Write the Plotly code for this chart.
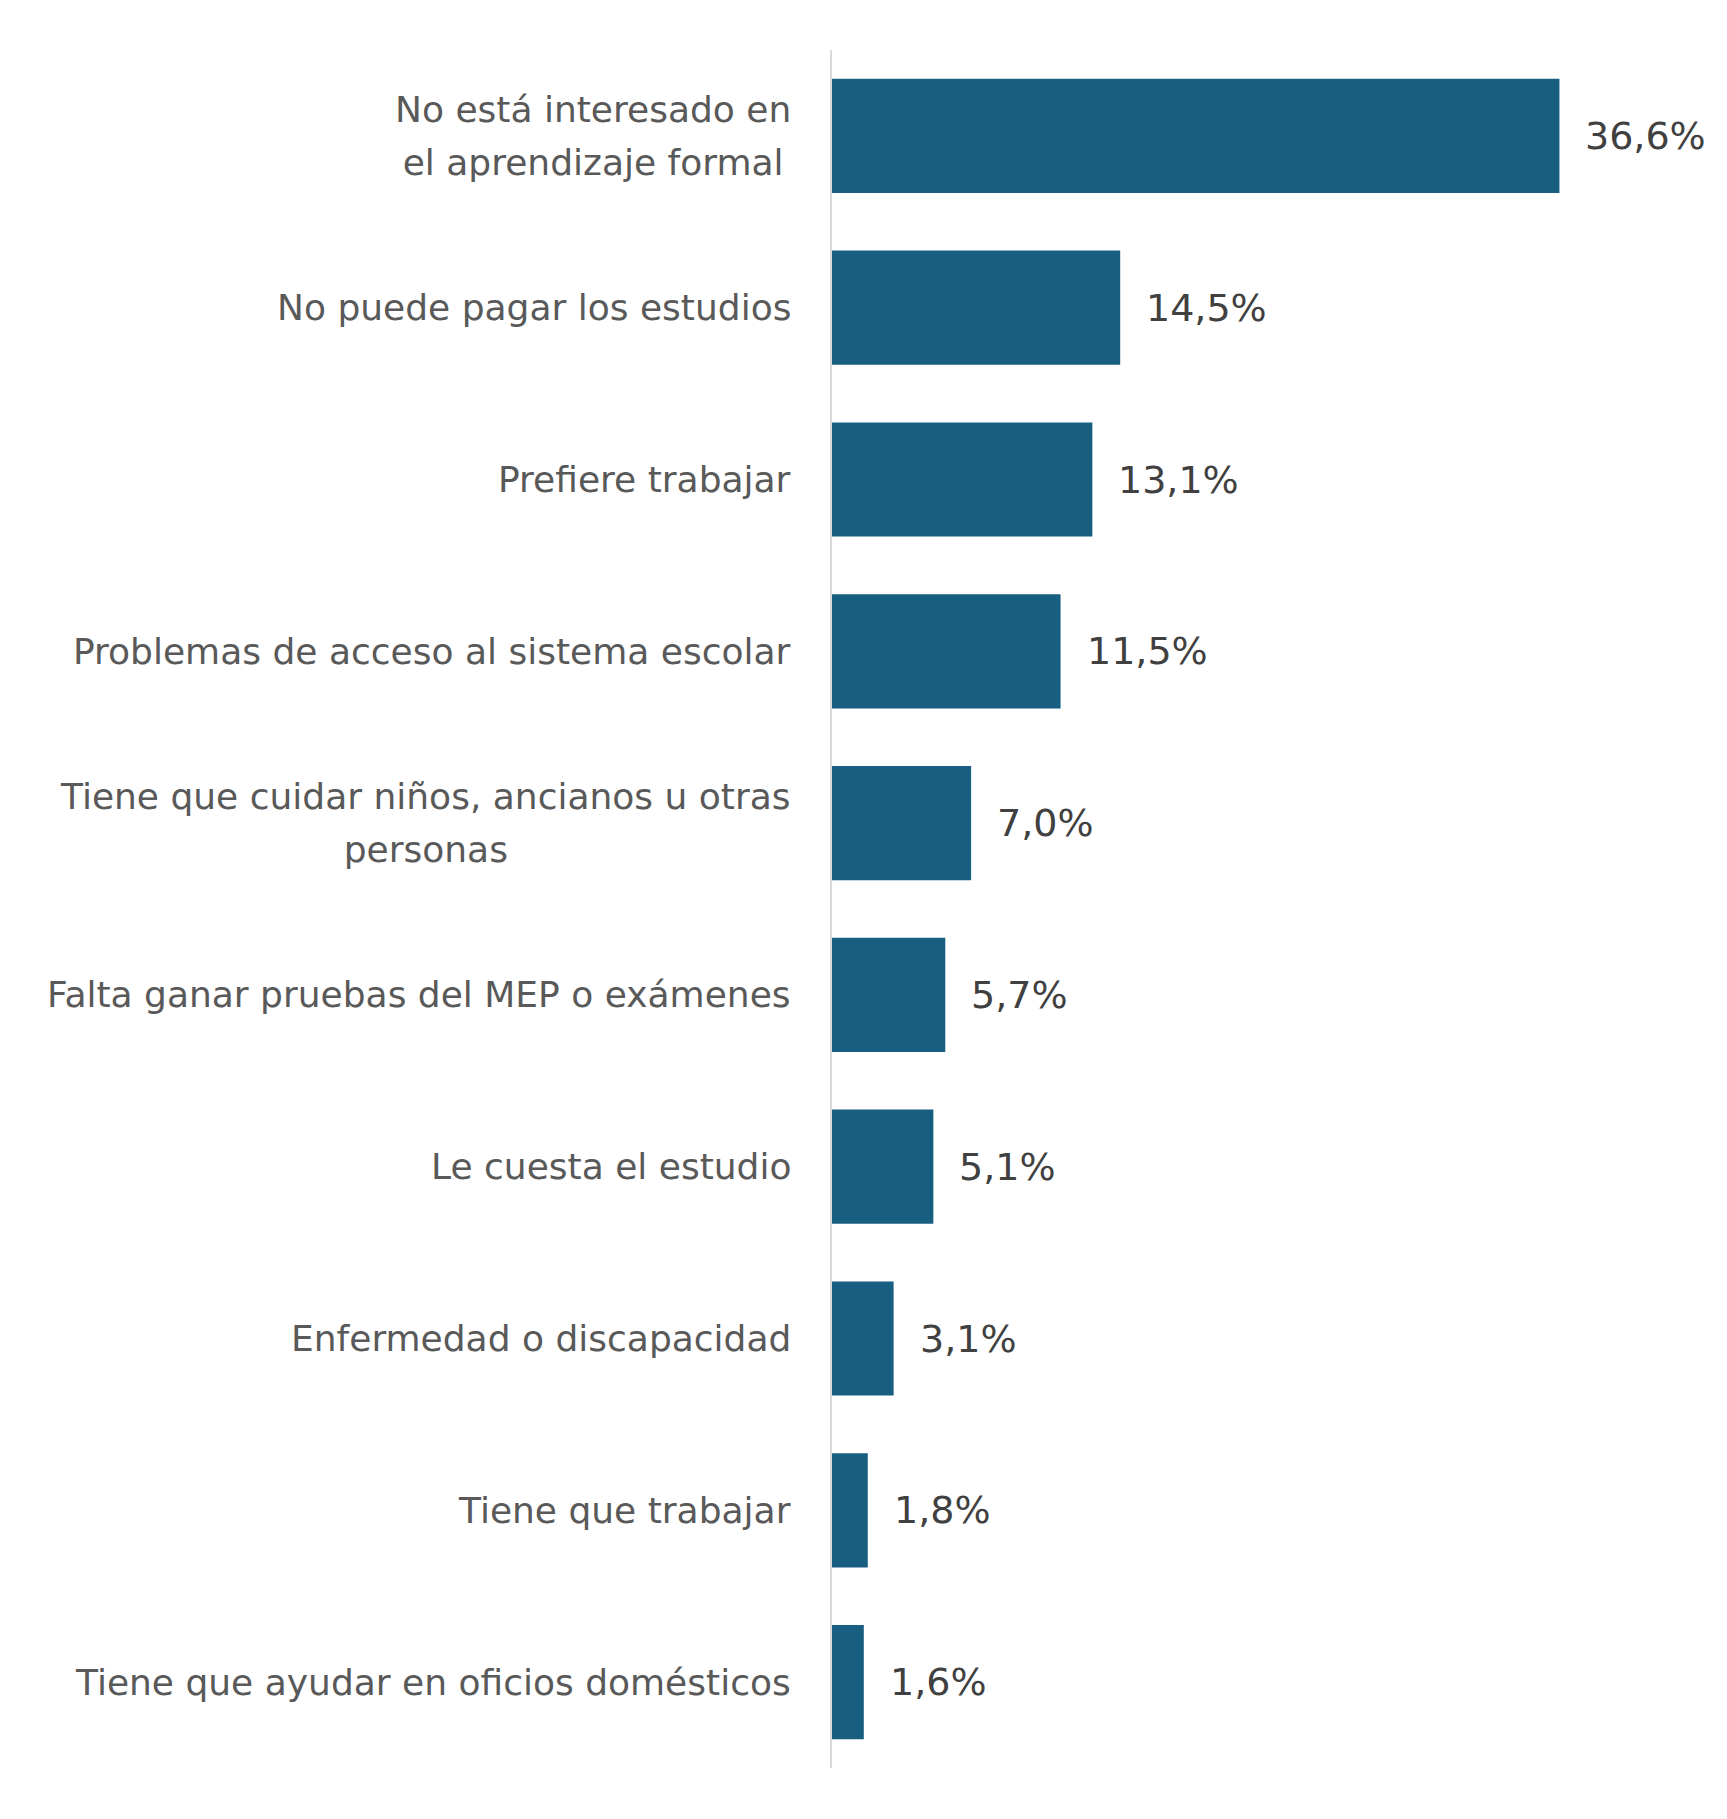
import plotly.graph_objects as go

# Motivos de no asistencia (porcentaje)
categories = [
    "No está interesado en<br>el aprendizaje formal",
    "No puede pagar los estudios",
    "Prefiere trabajar",
    "Problemas de acceso al sistema escolar",
    "Tiene que cuidar niños, ancianos u otras<br>personas",
    "Falta ganar pruebas del MEP o exámenes",
    "Le cuesta el estudio",
    "Enfermedad o discapacidad",
    "Tiene que trabajar",
    "Tiene que ayudar en oficios domésticos",
]
values = [36.6, 14.5, 13.1, 11.5, 7.0, 5.7, 5.1, 3.1, 1.8, 1.6]
value_labels = [f"{v:.1f}%".replace(".", ",") for v in values]

bar_color = "#175E80"
font_family = "DejaVu Sans, sans-serif"

fig = go.Figure(
    go.Bar(
        x=values,
        y=categories,
        orientation="h",
        marker=dict(color=bar_color, line=dict(width=0)),
        hoverinfo="skip",
    )
)

annotations = []
# category labels (centered lines, right-aligned block)
# outer font size sets the line spacing, inner span sets glyph size
for cat in categories:
    annotations.append(
        dict(
            x=0,
            y=cat,
            xref="x",
            yref="y",
            text=f"<span style='font-size:36px'>{cat}</span>",
            showarrow=False,
            xanchor="right",
            yanchor="middle",
            align="center",
            xshift=-39,
            font=dict(family=font_family, size=41, color="#595959"),
        )
    )
# value labels
for cat, v, lab in zip(categories, values, value_labels):
    annotations.append(
        dict(
            x=v,
            y=cat,
            xref="x",
            yref="y",
            text=lab,
            showarrow=False,
            xanchor="left",
            yanchor="middle",
            xshift=24,
            font=dict(family=font_family, size=38, color="#404040"),
        )
    )

fig.update_layout(
    width=1711,
    height=1803,
    margin=dict(l=824, r=92, t=42, b=43),
    paper_bgcolor="white",
    plot_bgcolor="white",
    bargap=0.335,
    showlegend=False,
    annotations=annotations,
    font=dict(family=font_family),
    xaxis=dict(
        range=[0, 40],
        visible=False,
        showgrid=False,
        zeroline=False,
    ),
    yaxis=dict(
        autorange="reversed",
        showticklabels=False,
        showgrid=False,
        zeroline=False,
        showline=True,
        linecolor="#D9D9D9",
        linewidth=2,
        ticks="",
    ),
)

fig.write_html("out.html")
